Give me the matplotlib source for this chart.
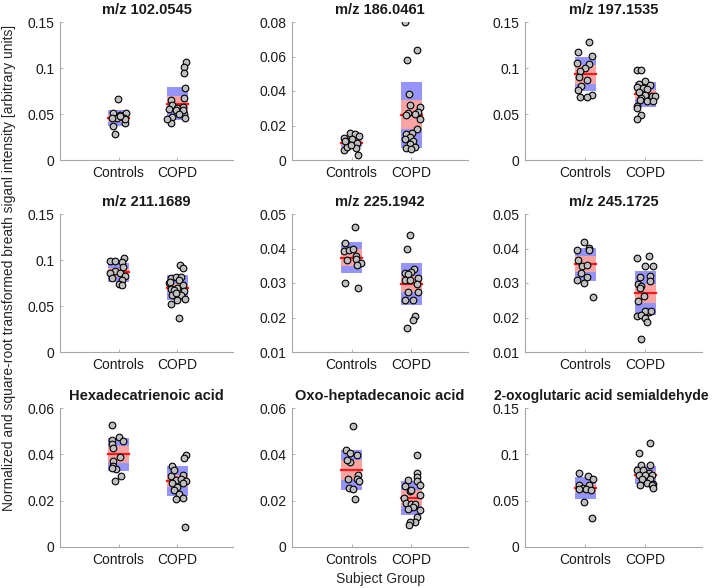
import matplotlib
matplotlib.use("Agg")
import matplotlib.pyplot as plt
from matplotlib.ticker import FuncFormatter
from matplotlib.patches import Rectangle

plt.rcParams['font.family'] = ['Liberation Sans', 'DejaVu Sans']

groups = ["Controls", "COPD"]
titles = ["m/z 102.0545", "m/z 186.0461", "m/z 197.1535",
          "m/z 211.1689", "m/z 225.1942", "m/z 245.1725",
          "Hexadecatrienoic acid", "Oxo-heptadecanoic acid",
          "2-oxoglutaric acid semialdehyde"]
ylims = [(0, 0.15), (0, 0.08), (0, 0.15),
         (0, 0.15), (0.01, 0.05), (0.01, 0.05),
         (0, 0.06), (0, 0.06), (0, 0.15)]
yticks = [[0, 0.05, 0.1, 0.15], [0, 0.02, 0.04, 0.06, 0.08], [0, 0.05, 0.1, 0.15],
          [0, 0.05, 0.1, 0.15], [0.01, 0.02, 0.03, 0.04, 0.05], [0.01, 0.02, 0.03, 0.04, 0.05],
          [0, 0.02, 0.04, 0.06], [0, 0.02, 0.04, 0.06], [0, 0.05, 0.1, 0.15]]

# Group means, 95% CI half-widths, SD half-widths: [Controls, COPD]
means = [[0.0455, 0.0613], [0.0100, 0.0263], [0.0930, 0.0715],
         [0.0865, 0.0700], [0.0373, 0.0297], [0.0354, 0.0270],
         [0.0400, 0.0283], [0.0331, 0.0212], [0.0635, 0.0777]]
ci_half = [[0.0045, 0.0085], [0.0015, 0.0082], [0.0100, 0.0050],
           [0.0045, 0.0040], [0.0025, 0.0024], [0.0023, 0.0027],
           [0.0036, 0.0026], [0.0043, 0.0033], [0.0049, 0.0048]]
sd_half = [[0.0085, 0.0177], [0.0027, 0.0192], [0.0185, 0.0135],
           [0.0100, 0.0136], [0.0045, 0.0062], [0.0047, 0.0064],
           [0.0072, 0.0065], [0.0086, 0.0074], [0.0117, 0.0102]]

# Individual points: y values and horizontal jitter (data units)
p1_ctrl_y = [0.066, 0.0507, 0.0493, 0.0507, 0.0457, 0.046, 0.046, 0.0375, 0.040, 0.0446, 0.0286, 0.0475]
p1_ctrl_j = [-0.01, -0.10, 0.03, 0.13, -0.03, 0.09, -0.11, -0.09, 0.10, 0.11, -0.07, 0.02]
p1_copd_y = [0.106, 0.101, 0.095, 0.078, 0.067, 0.065, 0.060, 0.056, 0.058, 0.055, 0.054, 0.050, 0.054, 0.047, 0.046, 0.040, 0.045, 0.050]
p1_copd_j = [0.15, 0.11, 0.12, 0.14, 0.11, -0.11, -0.09, 0.0, 0.09, -0.14, -0.03, 0.11, 0.09, -0.09, 0.14, -0.11, -0.17, 0.03]

p2_ctrl_y = [0.0125, 0.0157, 0.015, 0.0138, 0.0111, 0.0119, 0.0096, 0.0058, 0.0077, 0.0071, 0.0086, 0.0029, 0.011]
p2_ctrl_j = [-0.13, -0.03, 0.06, 0.13, -0.06, 0.01, 0.09, -0.13, -0.07, 0.07, -0.01, 0.11, -0.11]
p2_copd_y = [0.080, 0.0637, 0.058, 0.0384, 0.032, 0.0305, 0.028, 0.027, 0.0265, 0.026, 0.024, 0.0178, 0.0155, 0.0153, 0.0135, 0.012, 0.011, 0.009, 0.0077, 0.007, 0.0065]
p2_copd_j = [-0.11, 0.10, -0.07, -0.04, -0.02, 0.14, 0.11, -0.06, 0.06, -0.09, 0.15, 0.09, 0.01, -0.09, -0.03, -0.11, 0.03, -0.03, 0.06, -0.09, -0.01]

p3_ctrl_y = [0.128, 0.117, 0.113, 0.105, 0.104, 0.100, 0.097, 0.090, 0.087, 0.080, 0.076, 0.071, 0.068, 0.068]
p3_ctrl_j = [0.07, -0.11, 0.11, -0.14, 0.07, 0.0, -0.09, -0.10, 0.03, -0.06, -0.11, 0.11, -0.09, 0.03]
p3_copd_y = [0.0975, 0.0975, 0.083, 0.086, 0.081, 0.079, 0.078, 0.077, 0.074, 0.070, 0.071, 0.067, 0.070, 0.065, 0.064, 0.064, 0.0585, 0.056, 0.049, 0.045]
p3_copd_j = [-0.14, -0.07, -0.10, 0.0, 0.09, -0.14, -0.04, 0.04, -0.10, 0.11, 0.0, -0.06, 0.17, -0.09, 0.04, 0.14, -0.13, -0.14, -0.06, -0.14]

p4_ctrl_y = [0.099, 0.099, 0.102, 0.098, 0.0927, 0.088, 0.0855, 0.0855, 0.0807, 0.083, 0.078, 0.0735, 0.0727]
p4_ctrl_j = [-0.15, -0.07, 0.09, 0.06, 0.07, -0.06, -0.14, 0.03, -0.11, 0.10, 0.06, 0.0, 0.06]
p4_copd_y = [0.095, 0.091, 0.080, 0.082, 0.082, 0.0745, 0.078, 0.068, 0.0727, 0.070, 0.067, 0.066, 0.062, 0.062, 0.058, 0.0564, 0.052, 0.037, 0.0764, 0.0636]
p4_copd_j = [0.05, 0.09, -0.11, -0.03, 0.06, -0.14, 0.03, -0.11, 0.09, 0.0, -0.06, 0.11, -0.09, 0.06, 0.13, 0.0, -0.11, 0.03, -0.13, -0.03]

p5_ctrl_y = [0.0463, 0.0417, 0.0393, 0.0397, 0.0399, 0.0378, 0.0371, 0.0368, 0.0359, 0.0351, 0.0301, 0.0285]
p5_ctrl_j = [0.05, -0.11, -0.13, -0.04, 0.03, 0.07, 0.07, -0.07, 0.15, 0.09, -0.11, 0.11]
p5_copd_y = [0.044, 0.0399, 0.033, 0.034, 0.0333, 0.0325, 0.0314, 0.031, 0.031, 0.0297, 0.0273, 0.0273, 0.0252, 0.025, 0.0205, 0.0193, 0.017]
p5_copd_j = [-0.02, -0.07, -0.11, 0.05, 0.0, -0.06, 0.11, -0.10, -0.03, 0.10, -0.06, 0.11, -0.11, 0.03, 0.06, 0.03, -0.07]

p6_ctrl_y = [0.0419, 0.0397, 0.0402, 0.0395, 0.0366, 0.035, 0.0351, 0.033, 0.0318, 0.0309, 0.0299, 0.026]
p6_ctrl_j = [-0.02, -0.13, 0.06, 0.07, -0.11, -0.05, 0.04, -0.07, 0.03, -0.13, -0.01, 0.13]
p6_copd_y = [0.0373, 0.0378, 0.0349, 0.0349, 0.0318, 0.032, 0.0306, 0.0297, 0.0292, 0.0285, 0.0263, 0.0249, 0.0215, 0.0218, 0.0218, 0.0203, 0.0206, 0.0198, 0.0188, 0.0139]
p6_copd_j = [-0.13, 0.06, 0.0, 0.14, -0.09, 0.09, 0.09, -0.11, -0.07, -0.09, -0.02, -0.11, 0.06, 0.0, 0.10, -0.14, -0.06, 0.0, 0.03, -0.06]

p7_ctrl_y = [0.0525, 0.0475, 0.046, 0.0456, 0.0446, 0.0427, 0.0389, 0.037, 0.035, 0.0338, 0.034, 0.0306, 0.0286]
p7_ctrl_j = [-0.11, 0.0, -0.11, 0.07, -0.11, -0.10, 0.03, -0.09, -0.10, -0.04, -0.11, 0.04, -0.06]
p7_copd_y = [0.0399, 0.0384, 0.035, 0.0331, 0.0306, 0.0309, 0.0288, 0.0295, 0.0286, 0.0278, 0.0278, 0.0259, 0.0245, 0.023, 0.0212, 0.0206, 0.0086]
p7_copd_j = [0.15, 0.12, -0.09, -0.06, -0.11, 0.10, -0.03, 0.06, 0.15, -0.09, 0.09, 0.0, -0.06, 0.03, 0.09, -0.03, 0.13]

p8_ctrl_y = [0.0522, 0.0417, 0.0407, 0.0399, 0.0367, 0.0374, 0.0309, 0.0295, 0.0292, 0.0283, 0.0256, 0.0252, 0.0209]
p8_ctrl_j = [0.02, -0.10, -0.02, 0.09, -0.03, -0.07, 0.11, -0.06, 0.09, 0.13, -0.05, 0.03, 0.06]
p8_copd_y = [0.0399, 0.032, 0.0302, 0.0285, 0.029, 0.0266, 0.0262, 0.024, 0.0247, 0.0226, 0.0213, 0.0191, 0.0187, 0.0187, 0.0173, 0.0165, 0.0158, 0.013, 0.0108, 0.0108, 0.0096]
p8_copd_j = [0.10, 0.09, 0.10, 0.10, -0.06, 0.15, -0.11, -0.03, -0.01, 0.14, -0.13, -0.09, 0.0, 0.07, 0.03, -0.06, 0.15, 0.09, 0.06, -0.03, -0.04]

p9_ctrl_y = [0.0799, 0.0763, 0.0737, 0.0673, 0.0673, 0.0637, 0.0622, 0.0622, 0.0612, 0.0486, 0.0313]
p9_ctrl_j = [-0.10, 0.05, 0.13, -0.10, 0.06, -0.03, -0.10, 0.02, 0.10, -0.01, 0.11]
p9_copd_y = [0.1126, 0.1018, 0.0881, 0.0888, 0.0827, 0.0827, 0.0802, 0.0773, 0.0773, 0.0773, 0.0737, 0.073, 0.0694, 0.0683, 0.0665, 0.0665, 0.0637]
p9_copd_j = [0.09, -0.10, -0.07, 0.09, -0.13, -0.03, 0.06, -0.10, 0.0, 0.11, -0.05, 0.09, 0.03, 0.14, -0.09, 0.11, 0.13]

points = [
    [(p1_ctrl_j, p1_ctrl_y), (p1_copd_j, p1_copd_y)],
    [(p2_ctrl_j, p2_ctrl_y), (p2_copd_j, p2_copd_y)],
    [(p3_ctrl_j, p3_ctrl_y), (p3_copd_j, p3_copd_y)],
    [(p4_ctrl_j, p4_ctrl_y), (p4_copd_j, p4_copd_y)],
    [(p5_ctrl_j, p5_ctrl_y), (p5_copd_j, p5_copd_y)],
    [(p6_ctrl_j, p6_ctrl_y), (p6_copd_j, p6_copd_y)],
    [(p7_ctrl_j, p7_ctrl_y), (p7_copd_j, p7_copd_y)],
    [(p8_ctrl_j, p8_ctrl_y), (p8_copd_j, p8_copd_y)],
    [(p9_ctrl_j, p9_ctrl_y), (p9_copd_j, p9_copd_y)],
]

W, H = 714, 588
fig = plt.figure(figsize=(W / 100, H / 100), dpi=100)

col_px = [(60, 173), (292, 176), (525, 177)]
row_px = [(22, 160), (214, 352), (408, 547)]

sd_color = (0.58, 0.58, 0.98)
ci_color = (0.98, 0.64, 0.64)
half_w = 0.175
spine_gray = (0.65, 0.65, 0.65)

fmt = FuncFormatter(lambda v, p: ('%g' % round(v, 4)))

for i in range(9):
    r, c = divmod(i, 3)
    x0, w = col_px[c]
    top, bot = row_px[r]
    ax = fig.add_axes([x0 / W, 1 - bot / H, w / W, (bot - top) / H])
    for g in range(2):
        xc = g + 1
        m = means[i][g]
        ax.add_patch(Rectangle((xc - half_w, m - sd_half[i][g]), 2 * half_w, 2 * sd_half[i][g],
                               facecolor=sd_color, edgecolor='none', zorder=1))
        ax.add_patch(Rectangle((xc - half_w, m - ci_half[i][g]), 2 * half_w, 2 * ci_half[i][g],
                               facecolor=ci_color, edgecolor='none', zorder=2))
        ax.plot([xc - half_w, xc + half_w], [m, m], color=(0.95, 0.1, 0.1), lw=1.6, zorder=3)
        jit, ys = points[i][g]
        ax.plot([xc + j for j in jit], ys, 'o', ms=4.8, mfc=(0.75, 0.75, 0.75),
                mec='black', mew=0.8, zorder=4, linestyle='none')
    ax.set_xlim(0, 2.95)
    ax.set_ylim(*ylims[i])
    ax.set_yticks(yticks[i])
    ax.yaxis.set_major_formatter(fmt)
    ax.set_xticks([1, 2])
    ax.set_xticklabels(groups)
    for s in ['top', 'right']:
        ax.spines[s].set_visible(False)
    for s in ['left', 'bottom']:
        ax.spines[s].set_color(spine_gray)
        ax.spines[s].set_linewidth(0.8)
    ax.tick_params(direction='in', length=2.5, width=0.6, color=spine_gray,
                   labelsize=10, labelcolor=(0.1, 0.1, 0.1), pad=4)
    if len(titles[i]) > 25:
        ax.set_title(titles[i], fontsize=10, fontweight='bold', pad=6,
                     color=(0.1, 0.1, 0.1), x=0.43)
    else:
        ax.set_title(titles[i], fontsize=10.5, fontweight='bold', pad=6, color=(0.1, 0.1, 0.1))
    if i == 7:
        ax.set_xlabel("Subject Group", fontsize=10, color=(0.15, 0.15, 0.15), labelpad=4)

fig.text(0.012, 0.545,
         "Normalized and square-root transformed breath siganl intensity [arbitrary units]",
         rotation=90, ha='center', va='center', fontsize=10, color=(0.15, 0.15, 0.15))

fig.savefig("out.png", dpi=100)
